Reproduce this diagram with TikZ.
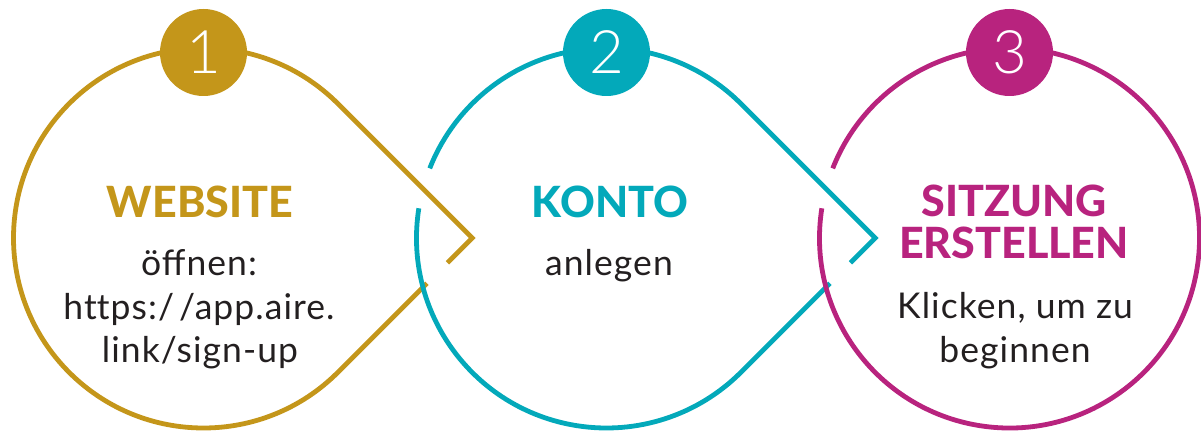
\documentclass[tikz,border=0pt]{standalone}
\usepackage{fontspec}
\setmainfont{Lato}
\newfontfamily\numfont{Lato Light}
\newfontfamily\headfont{Lato Heavy}
\newfontfamily\bodyfont[LetterSpace=3]{Lato}
\usetikzlibrary{calc}
\definecolor{cgold}{HTML}{C4961A}
\definecolor{cteal}{HTML}{03A9BA}
\definecolor{cmag}{HTML}{B8237E}
\definecolor{ctxt}{HTML}{231F20}
\tikzset{
  ring/.style={line width=4.8pt, line cap=butt, line join=miter},
  badge/.style={circle, inner sep=0pt, minimum size=87pt, text=white, font=\numfont\fontsize{60}{60}\selectfont},
  head/.style={anchor=base, inner sep=0pt, font=\headfont\fontsize{43}{43}\selectfont},
  body/.style={anchor=base, inner sep=0pt, text=ctxt, font=\bodyfont\fontsize{35.5}{35.5}\selectfont}
}
\begin{document}
\begin{tikzpicture}[x=1pt,y=1pt]
\useasboundingbox (0,0) rectangle (1201,432);
\coordinate (c1) at (203.5,194);
\coordinate (c2) at (606.5,194);
\coordinate (c3) at (1009.5,194);
% apexes and tangent points
\coordinate (a1) at ($(c1)+(268.7,0)$);
\coordinate (a2) at ($(c2)+(268.7,0)$);
\coordinate (u1) at ($(c1)+(45:190pt)$);
\coordinate (u2) at ($(c2)+(45:190pt)$);
\coordinate (l1) at ($(c1)+(315:190pt)$);
\coordinate (l2) at ($(c2)+(315:190pt)$);
\coordinate (g1) at ($(l1)+(109.6,109.6)$);
\coordinate (g2) at ($(l2)+(109.6,109.6)$);
% gold teardrop
\draw[ring, cgold] (g1) -- (a1) -- (u1) arc[start angle=45, end angle=315, radius=190pt] -- ++(89.1,89.1);
% teal teardrop
\draw[ring, cteal] ($(c2)+(171:190pt)$) arc[start angle=171, end angle=315, radius=190pt] -- ++(89.1,89.1);
\draw[ring, cteal] (g2) -- (a2) -- (u2) arc[start angle=45, end angle=158.5, radius=190pt];
% magenta circle
\draw[ring, cmag] ($(c3)+(171:190pt)$) arc[start angle=171, end angle=518.5, radius=190pt];
% badges
\node[badge, fill=cgold] (b1) at (203.5,379.5) {1};
\node[badge, fill=cteal] (b2) at (606.5,379.5) {2};
\node[badge, fill=cmag] (b3) at (1009.5,379.5) {3};
% texts
\node[head, text=cgold] (t1) at (200,215) {WEBSITE};
\node[body] (t1a) at (199,157) {öffnen:};
\node[body] (t1b) at (199,113) {ht\kern0pt tps:/\hspace{5pt}/app.aire.};
\node[body] (t1c) at (200,70) {link/sign-up};
\node[head, text=cteal] (t2) at (610,215) {KONTO};
\node[body] (t2a) at (609,157) {anlegen};
\node[head, text=cmag] (t3) at (1014,216) {SITZUNG};
\node[head, text=cmag] (t3b) at (1014,174) {ERSTELLEN};
\node[body] (t3c) at (1015,114) {Klicken, um zu};
\node[body] (t3d) at (1015,70) {beginnen};
\end{tikzpicture}
\end{document}
